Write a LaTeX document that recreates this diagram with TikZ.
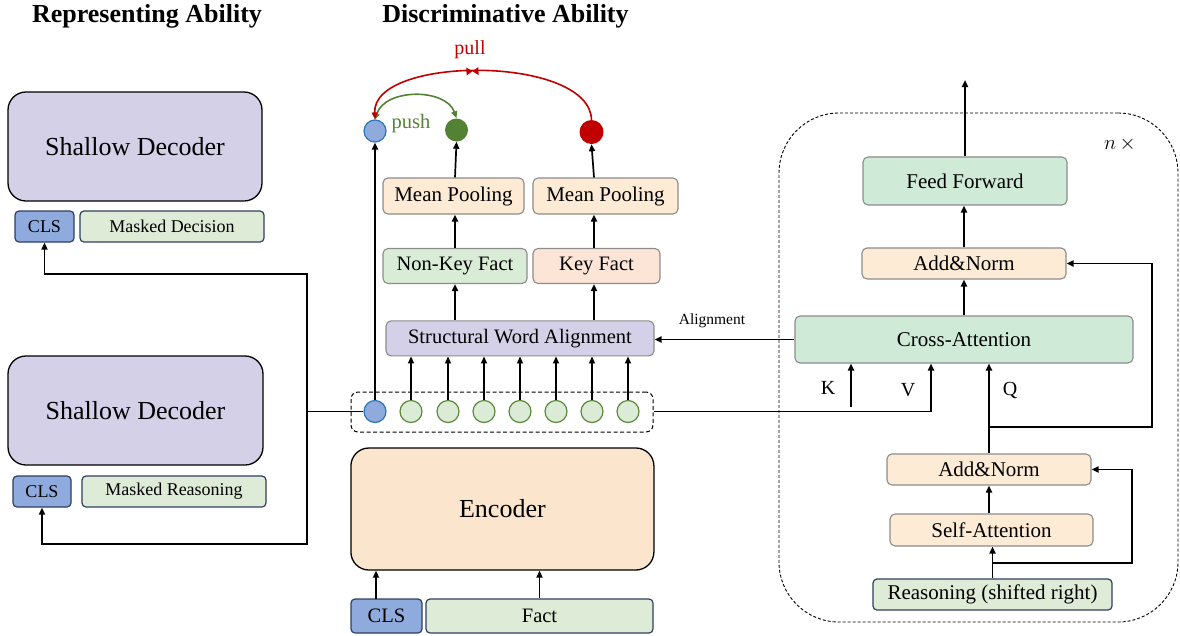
\documentclass[tikz,border=0pt]{standalone}
\usepackage{fontspec}
\setmainfont{Liberation Serif}
\usetikzlibrary{arrows.meta,calc,decorations.markings}
\definecolor{lav}{HTML}{D4D0E8}
\definecolor{clsblue}{HTML}{8FAADC}
\definecolor{navy}{HTML}{2F3F60}
\definecolor{lgreen}{HTML}{DDEBD7}
\definecolor{mint}{HTML}{CFEBD7}
\definecolor{encpeach}{HTML}{FBE5CD}
\definecolor{lpeach}{HTML}{FDEBD5}
\definecolor{pink}{HTML}{FCE4D6}
\definecolor{nkgreen}{HTML}{D8ECD6}
\definecolor{cgreen}{HTML}{DCEBD6}
\definecolor{cgreenb}{HTML}{5A8A3A}
\definecolor{dgreen}{HTML}{548235}
\definecolor{dred}{HTML}{C00000}
\definecolor{bblue}{HTML}{2E75B6}
\definecolor{gborder}{HTML}{8C8C8C}
\newcommand{\fs}[1]{\fontsize{#1}{#1}\selectfont}
\tikzset{
  arr/.style={-{Triangle[length=7pt,width=6pt]}, line width=1.7pt},
  ln/.style={line width=1.7pt},
  bigbox/.style={draw=black, line width=1.3pt, rounded corners=18pt, inner sep=0pt, align=center},
  tokbox/.style={draw=navy, line width=1.2pt, rounded corners=4pt, inner sep=0pt, align=center},
  midbox/.style={draw=gborder, line width=1.1pt, rounded corners=5pt, inner sep=0pt, align=center},
  tok/.style={circle, draw=cgreenb, fill=cgreen, line width=1.2pt, minimum size=22pt, inner sep=0pt},
  ttl/.style={font=\fs{26}\bfseries, inner sep=0pt}
}
\begin{document}
\begin{tikzpicture}[x=1pt,y=-1pt]
\useasboundingbox (0,0) rectangle (1180,635);
% titles
\node[ttl] (t1) at (147,16) {Representing Ability};
\node[ttl] (t2) at (505.5,16) {Discriminative Ability};

% left side
\node[bigbox, fill=lav, minimum width=254pt, minimum height=109pt, font=\fs{26}] (sd1) at (135,146.5) {Shallow Decoder};
\node[tokbox, fill=clsblue, minimum width=59pt, minimum height=31pt, font=\fs{18}] (cls1) at (44.5,226.5) {CLS};
\node[tokbox, fill=lgreen, minimum width=184pt, minimum height=31pt, font=\fs{18}] (md) at (172,226.5) {Masked Decision};
\node[bigbox, fill=lav, minimum width=255pt, minimum height=109pt, font=\fs{26}] (sd2) at (135.5,410.5) {Shallow Decoder};
\node[tokbox, fill=clsblue, minimum width=58pt, minimum height=31pt, font=\fs{18}] (cls2) at (42,491.5) {CLS};
\node[tokbox, fill=lgreen, minimum width=184pt, minimum height=31pt, font=\fs{18}] (mr) at (174,491.5) {Masked Reasoning};

% encoder part
\node[bigbox, fill=encpeach, minimum width=303pt, minimum height=122pt, font=\fs{26}] (enc) at (502.4,509) {Encoder};
\node[tokbox, fill=clsblue, minimum width=71pt, minimum height=34pt, font=\fs{20.5}] (clsb) at (386.5,616) {CLS};
\node[tokbox, fill=lgreen, minimum width=227pt, minimum height=34pt, font=\fs{20.5}] (fact) at (539.5,616) {Fact};
\coordinate (clsa) at (376,599);
\draw[arr] (clsa) -- (clsa |- enc.south);
\draw[arr] (fact.north) -- (fact.north |- enc.south);

% token row
\node[draw, dash pattern=on 4pt off 2.5pt, line width=1pt, rounded corners=7pt, minimum width=302pt, minimum height=40pt, inner sep=0pt] (tokrow) at (502,412) {};
\node[circle, draw=bblue, fill=clsblue, line width=1.2pt, minimum size=22pt, inner sep=0pt] (t0) at (375,411.5) {};
\foreach \i/\x in {1/411,2/448,3/484,4/520,5/556,6/592,7/628} {
  \node[tok] (t\i) at (\x,411.5) {};
}
\node[midbox, fill=lav, minimum width=268pt, minimum height=35pt, font=\fs{20.5}] (swa) at (520,338.4) {Structural Word Alignment};
\foreach \i in {1,...,7} {
  \draw[arr] (t\i.north) -- (t\i.north |- swa.south);
}
\node[midbox, fill=nkgreen, minimum width=144pt, minimum height=35pt, font=\fs{20.5}] (nkf) at (455,266) {Non-Key Fact};
\node[midbox, fill=pink, minimum width=127pt, minimum height=35pt, font=\fs{20.5}] (kf) at (596.5,266) {Key Fact};
\draw[arr] (swa.north -| nkf.south) -- (nkf.south);
\draw[arr] ([xshift=-2.5pt]swa.north -| kf.south) -- ([xshift=-2.5pt]kf.south);
\node[midbox, fill=lpeach, minimum width=141pt, minimum height=36pt, font=\fs{21}] (mp1) at (453.5,196) {Mean Pooling};
\node[midbox, fill=lpeach, minimum width=145pt, minimum height=36pt, font=\fs{21}] (mp2) at (605.5,196) {Mean Pooling};
\draw[arr] (nkf.north) -- (nkf.north |- mp1.south);
\draw[arr] ([xshift=-2.5pt]kf.north) -- ([xshift=-2.5pt]kf.north |- mp2.south);

% top circles
\node[circle, draw=bblue, fill=clsblue, line width=1.2pt, minimum size=22pt, inner sep=0pt] (b0) at (375,131) {};
\node[circle, fill=dgreen, minimum size=23pt, inner sep=0pt] (gc) at (456.5,130) {};
\node[circle, fill=dred, minimum size=24pt, inner sep=0pt] (rc) at (591.5,132) {};
\draw[arr] (t0.north) -- (b0.south);
\draw[arr] (nkf.north |- mp1.north) -- (gc.south);
\draw[arr] ([xshift=-2.5pt]kf.north |- mp2.north) -- (rc.south);

% push / pull
\draw[dgreen, line width=1.6pt, {Triangle[length=6pt,width=6pt]}-{Triangle[length=7pt,width=6pt]}]
  (b0.north) .. controls (385,88) and (446,88) .. (gc.north);
\draw[dred, line width=1.6pt, -{Triangle[length=7pt,width=6pt]},
  postaction={decorate, decoration={markings, mark=at position 0.54 with {
    \fill[dred] (-6,-4) -- (0,0) -- (-6,4) -- cycle;
    \fill[dred] (6,-4) -- (0,0) -- (6,4) -- cycle;}}}]
  (rc.north) .. controls (590,55) and (372,55) .. (b0.north);
\node[text=dred, font=\fs{20}] (pull) at (470,50) {pull};
\node[text=dgreen, font=\fs{20.5}] (push) at (411,124) {push};

% left connectors
\coordinate (jL) at (307,411.5);
\coordinate (jT) at (307,274);
\coordinate (jB) at (307,544);
\draw[ln] (t0.west) -- (jL);
\draw[arr] (jL) -- (jT) -| (cls1.south);
\draw[arr] (jL) -- (jB) -| (cls2.south);

% right decoder block
\node[draw, dash pattern=on 3pt off 2pt, line width=0.9pt, rounded corners=60pt, minimum width=399pt, minimum height=509pt, inner sep=0pt] (blk) at (978.5,367.5) {};
\node[font=\fs{22}, inner sep=0pt] (nx) at (1120,144) {$n\,\times$};
\node[midbox, fill=mint, minimum width=204pt, minimum height=48pt, font=\fs{21}] (ff) at (965,181) {Feed Forward};
\coordinate (out) at (965,80);
\draw[arr] (ff.north) -- (out);
\node[midbox, fill=lpeach, minimum width=204pt, minimum height=31pt, font=\fs{21}] (an1) at (964,263.5) {Add\&Norm};
\draw[arr] (an1.north) -- (an1.north |- ff.south);
\node[midbox, fill=mint, minimum width=338pt, minimum height=47pt, font=\fs{21}] (ca) at (964,339.5) {Cross-Attention};
\draw[arr] (ca.north) -- (ca.north |- an1.south);
\draw[arr] (ca.west) -- (ca.west -| swa.east);
\node[font=\fs{15.5}, inner sep=0pt] (alg) at (712,321) {Alignment};

\coordinate (kst) at (851,407);
\draw[arr] (kst) -- (kst |- ca.south);
\coordinate (vc) at (931,411.5);
\draw[ln] (tokrow.east |- vc) -- (vc);
\draw[arr] (vc) -- (vc |- ca.south);
\node[font=\fs{20}, inner sep=0pt] (kl) at (828,388) {K};
\node[font=\fs{20}, inner sep=0pt] (vl) at (908,390) {V};
\node[font=\fs{20}, inner sep=0pt] (ql) at (1010,390) {Q};

\node[midbox, fill=lpeach, minimum width=204pt, minimum height=31pt, font=\fs{21}] (an2) at (989,469.5) {Add\&Norm};
\node[midbox, fill=lpeach, minimum width=203pt, minimum height=32pt, font=\fs{21}] (sa) at (991.5,530) {Self-Attention};
\node[tokbox, fill=lgreen, minimum width=239pt, minimum height=31pt, font=\fs{21}] (reas) at (992.5,594.5) {Reasoning (shifted right)};

\draw[arr] (an2.north) -- (an2.north |- ca.south);
\coordinate (r1) at (989,427);
\coordinate (r1c) at (1152,427);
\draw[arr] (r1) -- (r1c) |- (an1.east);
\draw[arr] (sa.north -| an2.south) -- (an2.south);
\draw[arr] (reas.north) -- (reas.north |- sa.south);
\coordinate (r2) at (992.5,563);
\coordinate (r2c) at (1132,563);
\draw[arr] (r2) -- (r2c) |- (an2.east);
\end{tikzpicture}
\end{document}
